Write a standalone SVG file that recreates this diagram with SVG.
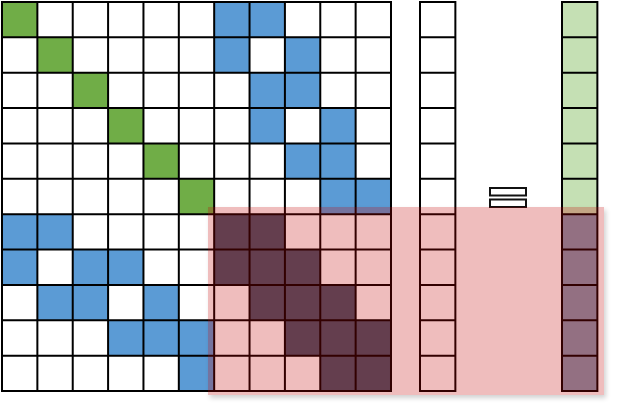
<svg xmlns="http://www.w3.org/2000/svg" width="617" height="409" viewBox="0 0 617 409">
<style>
.g{fill:#70ad47}.b{fill:#5b9bd5}.d{fill:#44546a}.lg{fill:#c5e0b4}.lb{fill:#8497b0}
.ln{fill:none;stroke:#000;stroke-width:2;vector-effect:non-scaling-stroke;stroke-linecap:square}
</style>
<defs>
<filter id="blur" x="-10%" y="-10%" width="120%" height="130%"><feGaussianBlur stdDeviation="2.5"/></filter>
<mask id="outside"><rect x="0" y="0" width="617" height="409" fill="#fff"/><rect x="208" y="207" width="396" height="188" fill="#000"/></mask>
</defs>
<rect width="617" height="409" fill="#fff"/>
<g id="matrix" transform="translate(2 2) scale(35.3636)">
<rect x="0" y="0" width="11" height="11" fill="#fff"/>
<rect class="g" x="0" y="0" width="1" height="1"/><rect class="g" x="1" y="1" width="1" height="1"/><rect class="g" x="2" y="2" width="1" height="1"/><rect class="g" x="3" y="3" width="1" height="1"/><rect class="g" x="4" y="4" width="1" height="1"/><rect class="g" x="5" y="5" width="1" height="1"/>
<rect class="b" x="6" y="0" width="2" height="1"/>
<rect class="b" x="6" y="1" width="1" height="1"/><rect class="b" x="8" y="1" width="1" height="1"/>
<rect class="b" x="7" y="2" width="2" height="1"/>
<rect class="b" x="7" y="3" width="1" height="1"/><rect class="b" x="9" y="3" width="1" height="1"/>
<rect class="b" x="8" y="4" width="2" height="1"/>
<rect class="b" x="9" y="5" width="2" height="1"/>
<rect class="b" x="0" y="6" width="2" height="1"/>
<rect class="b" x="0" y="7" width="1" height="1"/><rect class="b" x="2" y="7" width="2" height="1"/>
<rect class="b" x="1" y="8" width="2" height="1"/><rect class="b" x="4" y="8" width="1" height="1"/>
<rect class="b" x="3" y="9" width="3" height="1"/>
<rect class="b" x="5" y="10" width="1" height="1"/>
<rect class="d" x="6" y="6" width="2" height="1"/>
<rect class="d" x="6" y="7" width="3" height="1"/>
<rect class="d" x="7" y="8" width="3" height="1"/>
<rect class="d" x="8" y="9" width="3" height="1"/>
<rect class="d" x="9" y="10" width="2" height="1"/>
<path class="ln" d="M0 0H11M0 1H11M0 2H11M0 3H11M0 4H11M0 5H11M0 6H11M0 7H11M0 8H11M0 9H11M0 10H11M0 11H11M0 0V11M1 0V11M2 0V11M3 0V11M4 0V11M5 0V11M6 0V11M7 0V11M8 0V11M9 0V11M10 0V11M11 0V11"/>
</g>
<g id="vector-x" transform="translate(420 2) scale(35.3636)">
<rect x="0" y="0" width="1" height="11" fill="#fff"/>
<path class="ln" d="M0 0H1M0 1H1M0 2H1M0 3H1M0 4H1M0 5H1M0 6H1M0 7H1M0 8H1M0 9H1M0 10H1M0 11H1M0 0V11M1 0V11"/>
</g>
<g id="vector-y" transform="translate(562 2) scale(35.3636)">
<rect class="lg" x="0" y="0" width="1" height="6"/>
<rect class="lb" x="0" y="6" width="1" height="5"/>
<path class="ln" d="M0 0H1M0 1H1M0 2H1M0 3H1M0 4H1M0 5H1M0 6H1M0 7H1M0 8H1M0 9H1M0 10H1M0 11H1M0 0V11M1 0V11"/>
</g>
<g id="equals">
<rect x="490" y="188" width="36" height="7.5" fill="#fff" stroke="#111" stroke-width="2"/>
<rect x="490" y="199.5" width="36" height="7.5" fill="#fff" stroke="#111" stroke-width="2"/>
</g>
<g id="highlight">
<rect x="210" y="210" width="396" height="188" fill="#000" opacity="0.18" filter="url(#blur)" mask="url(#outside)"/>
<rect x="208" y="207" width="396" height="188" fill="#c00000" fill-opacity="0.26"/>
</g>
</svg>
